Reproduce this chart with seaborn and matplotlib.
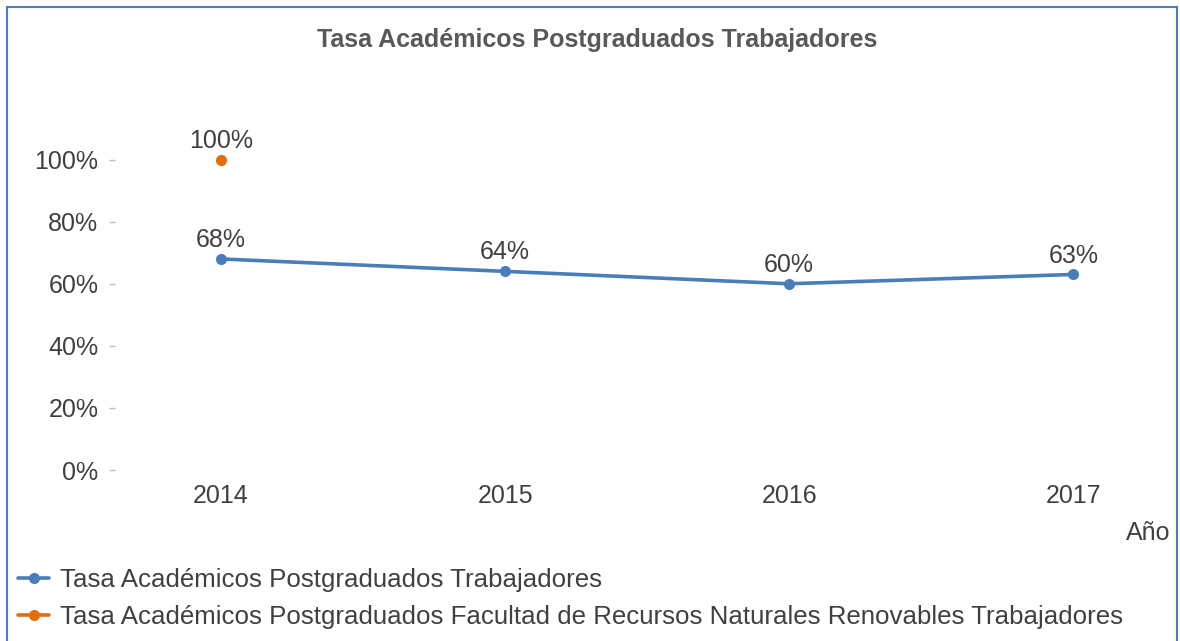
import matplotlib
matplotlib.use("Agg")
import matplotlib.pyplot as plt
import seaborn as sns
import numpy as np
import pandas as pd
from matplotlib.patches import Rectangle

years = ["2014", "2015", "2016", "2017"]
tasa_general = [0.68, 0.64, 0.60, 0.63]
tasa_facultad = [1.00, np.nan, np.nan, np.nan]
serie_general = "Tasa Académicos Postgraduados Trabajadores"
serie_facultad = "Tasa Académicos Postgraduados Facultad de Recursos Naturales Renovables Trabajadores"
y_ticks = [0, 0.2, 0.4, 0.6, 0.8, 1.0]

sns.set_theme(style="white")
plt.rcParams['font.family'] = ['Liberation Sans', 'DejaVu Sans']

azul = "#4A7EBB"
naranja = "#E46C0A"
gris = "#404040"

df = pd.DataFrame({"x": range(len(years)), "general": tasa_general, "facultad": tasa_facultad})

fig = plt.figure(figsize=(11.8, 6.41), dpi=100)
ax = fig.add_axes([115 / 1180, 1 - 470 / 641, (1150 - 115) / 1180, (470 - 141) / 641])

sns.lineplot(data=df, x="x", y="general", ax=ax, color=azul, lw=2.6,
             marker="o", markersize=8, markeredgewidth=0, label=serie_general)
sns.lineplot(data=df, x="x", y="facultad", ax=ax, color=naranja, lw=2.6,
             marker="o", markersize=8, markeredgewidth=0, label=serie_facultad)

# etiquetas de datos
for serie in (tasa_general, tasa_facultad):
    for i, v in enumerate(serie):
        if not np.isnan(v):
            ax.annotate(f"{v:.0%}", (i, v), xytext=(0, 5), textcoords="offset points",
                        ha="center", va="bottom", fontsize=18, color=gris)

ax.set_xlim(-0.373, 3.27)
ax.set_ylim(0, 1.06)
ax.set_xticks(range(len(years)))
ax.set_xticklabels(years)
ax.set_yticks(y_ticks)
ax.set_yticklabels([f"{t:.0%}" for t in y_ticks])
ax.tick_params(axis="x", length=0, pad=10, labelsize=18, labelcolor=gris)
ax.tick_params(axis="y", length=4, width=1, color="#BFBFBF", pad=8, labelsize=18,
               labelcolor=gris, left=True)
ax.set_xlabel("")
ax.set_ylabel("")
sns.despine(ax=ax, left=True, bottom=True)

handles, labels = ax.get_legend_handles_labels()
ax.get_legend().remove()
fig.legend(handles, labels, loc="lower left", bbox_to_anchor=(8 / 1180, 0.002),
           frameon=False, fontsize=18.6, labelcolor=gris, handlelength=1.2,
           handletextpad=0.4, labelspacing=0.5, borderaxespad=0)

fig.text(597 / 1180, 1 - 40 / 641, serie_general, ha="center", va="center",
         fontsize=18, fontweight="bold", color="#595959")
fig.text(1148 / 1180, 1 - 533 / 641, "Año", ha="center", va="center",
         fontsize=18, color=gris)

fig.patches.append(Rectangle((7 / 1180, -0.1), (1177 - 7) / 1180, 1.1 - 7 / 641,
                             transform=fig.transFigure, fill=False,
                             edgecolor="#4F7CC4", lw=1.5))

fig.savefig("out.png", dpi=100)
